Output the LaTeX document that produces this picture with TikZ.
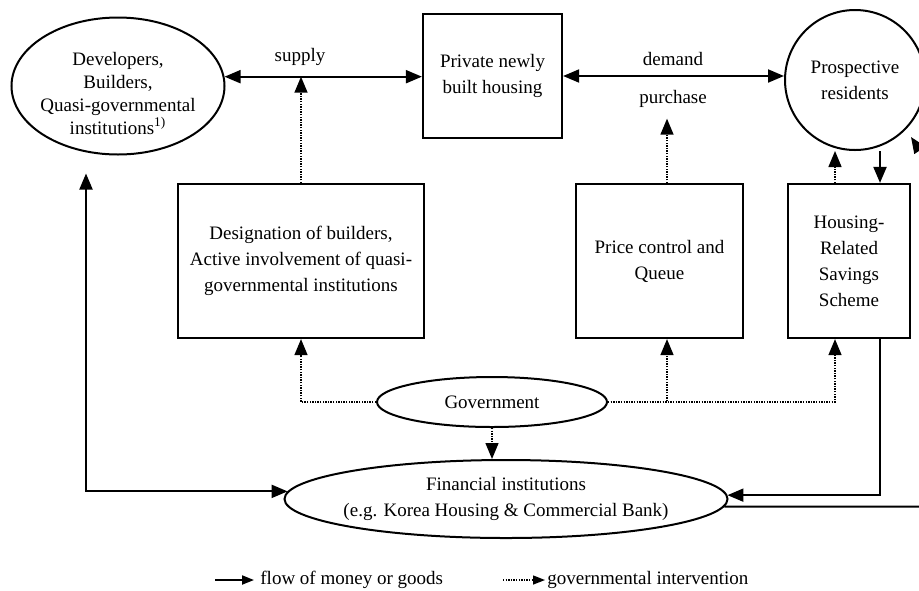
\documentclass[tikz,border=0pt]{standalone}
\usepackage{fontspec}
\setmainfont{Liberation Serif}
\usetikzlibrary{calc,shapes.geometric,arrows.meta}

\begin{document}
\begin{tikzpicture}[x=0.5pt, y=-0.5pt,
  font=\fontsize{9.5}{13}\selectfont,
  >={Triangle[length=8pt,width=6.5pt]},
  box/.style={draw, line width=1.1pt, align=center, inner sep=0pt},
  oval/.style={draw, ellipse, line width=1pt, align=center, inner sep=0pt},
  flow/.style={line width=1pt},
  interv/.style={line width=0.7pt, dash pattern=on 0.7pt off 0.6pt},
  lgtip/.style={>={Triangle[length=6pt,width=4.5pt]}},
  lgd/.style={anchor=west, inner sep=1pt}]
\useasboundingbox (0,0) rectangle (919,590);
\clip (0,0) rectangle (919,590);

% market
\node[oval, minimum width=106.5pt, minimum height=68.5pt] (dev) at (118,86) {};
\node[align=center, font=\fontsize{9.5}{11.5}\selectfont] (devtext) at (118,93)
  {Developers,\\Builders,\\Quasi-governmental\\institutions\textsuperscript{1)}};
\node[box, minimum width=69.5pt, minimum height=62pt] (phb) at (492.5,76) {Private newly\\built housing};
\node[draw, circle, line width=1pt, minimum size=70pt, inner sep=0pt, align=center] (res) at (855,80) {Prospective\\residents};

\node (supply) at (300,57) {supply};
\node (demand) at (673,59) {demand};
\node (purchase) at (673,99) {purchase};

% policies
\node[box, minimum width=123pt, minimum height=77pt] (des) at (301,261)
  {Designation of builders,\\Active involvement of quasi-\\governmental institutions};
\node[box, minimum width=83.5pt, minimum height=77pt] (pcq) at (659.5,261) {Price control and\\Queue};
\node[box, minimum width=61pt, minimum height=77pt] (hrs) at (849,261) {Housing-\\Related\\Savings\\Scheme};

% government and banks
\node[oval, minimum width=115pt, minimum height=25pt] (gov) at (492,402) {Government};
\node[oval, minimum width=221.5pt, minimum height=39pt, inner xsep=-3pt] (fin) at (506,499)
  {Financial institutions\\(e.g. Korea Housing \& Commercial Bank)};

% flows of money or goods
\draw[flow,<->] (dev.5) -- (dev.5 -| phb.west);
\draw[flow,<->] (phb.east) -- (phb.east -| res.west);
\coordinate (hrsdown) at ($(hrs.north)+(31,0)$);
\draw[flow,->] (hrsdown |- res.south) -- (hrsdown);
\coordinate (hrsout) at ($(hrs.south)+(31,0)$);
\draw[flow,->] (hrsout) |- (fin.1.6);
\coordinate (devfoot) at ($(dev.south)+(-32,18)$);
\draw[flow,<->] (devfoot) |- (fin.178.4);
\coordinate (restip) at ($(res.center)+(56,57)$);
\draw[flow,->] (fin.-2.4) -- ++(260,0) -- ++(0,-260) -- (restip);

% governmental intervention
\draw[interv,->] (des.north) -- (des.north |- dev.5);
\coordinate (pcqtop) at ($(pcq.north)+(7.5,0)$);
\draw[interv,->,shorten >=2pt] (pcqtop) -- (pcqtop |- purchase.south);
\draw[interv,->] (gov.west) -| (des.south);
\coordinate (pcqbot) at ($(pcq.south)+(7.5,0)$);
\draw[interv,->] (gov.east) -| (pcqbot);
\coordinate (hrsleft) at ($(hrs.south)+(-14,0)$);
\draw[interv,->] (gov.east) -| (hrsleft);
\draw[interv,->] (gov.south) -- (gov.south |- fin.north);
\coordinate (hrsup) at ($(hrs.north)+(-14,0)$);
\draw[interv,->] (hrsup) -- (hrsup |- res.south);

% legend
\coordinate (lgflowstart) at (215,580);
\node[lgd] (lgflow) at (258,580) {flow of money or goods};
\draw[flow,lgtip,->,shorten >=2pt] (lgflowstart) -- (lgflow.west);
\coordinate (lgintstart) at (503,580);
\node[lgd] (lgint) at (545,580) {governmental intervention};
\draw[interv,lgtip,->] (lgintstart) -- (lgint.west);
\end{tikzpicture}
\end{document}
